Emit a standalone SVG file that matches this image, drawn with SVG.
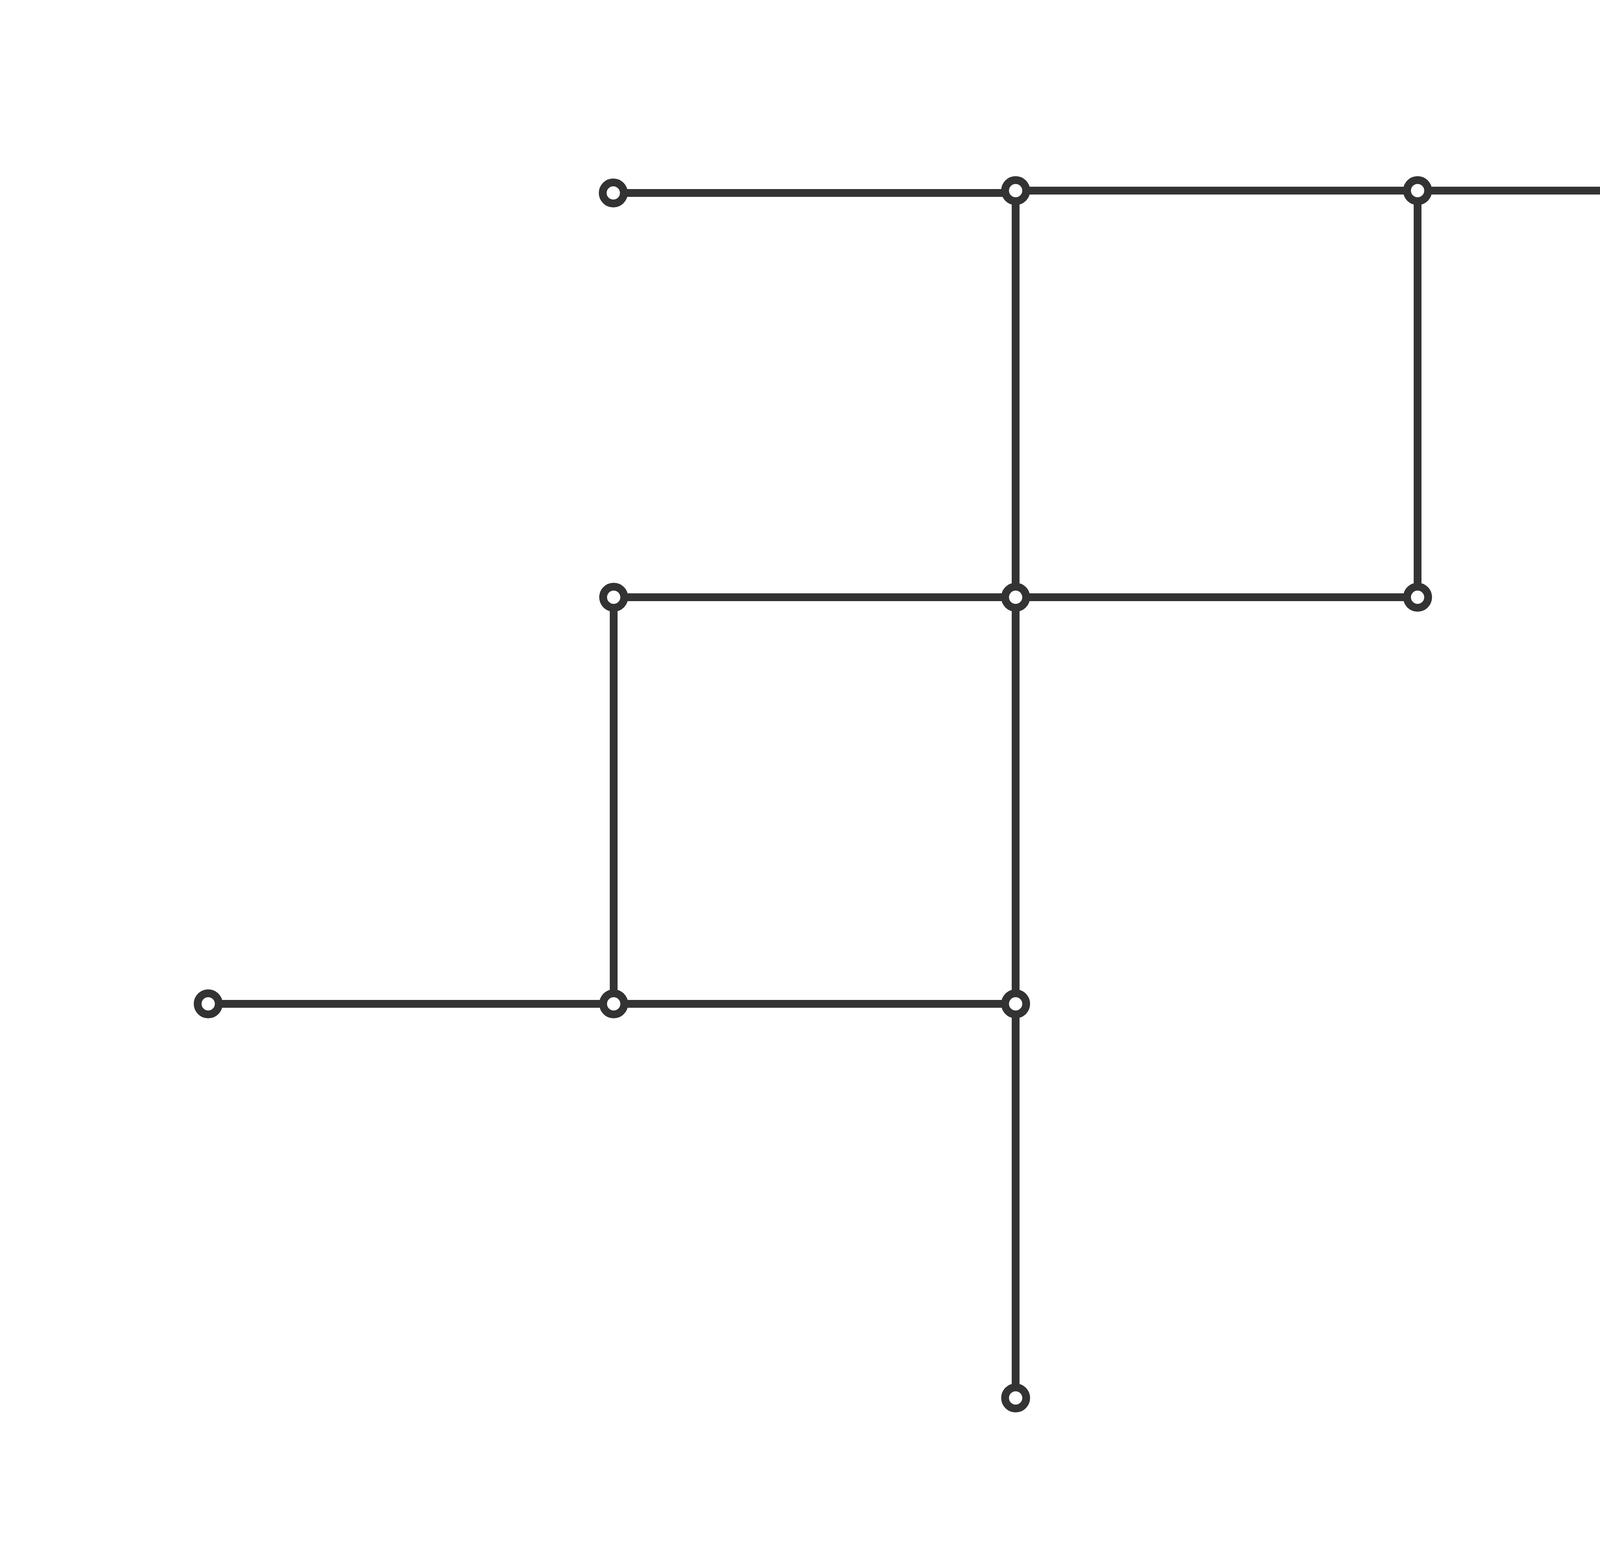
<svg xmlns="http://www.w3.org/2000/svg" width="5000" height="3958" viewBox="0 0 5000 3958">
<style>
.edge{stroke:#333333;stroke-width:20;fill:none}
.ring{stroke:#333333;stroke-width:20;fill:#ffffff}
.term{stroke:#333333;stroke-width:22;fill:#ffffff}
.bar{stroke:#333333;stroke-width:12}
.lbl{font-family:"Open Sans","Noto Sans","Liberation Sans",sans-serif;font-size:90px;fill:#000000}
</style>
<rect x="0" y="0" width="5000" height="3958" fill="#ffffff"/>
<g id="connectors">
<line class="edge" x1="1570" y1="494" x2="2600" y2="494"/>
<line class="edge" x1="2600" y1="488" x2="4674" y2="488"/>
<line class="edge" x1="1571" y1="1529" x2="3629" y2="1529"/>
<line class="edge" x1="533" y1="2570" x2="2600" y2="2570"/>
<line class="edge" x1="2600" y1="488" x2="2600" y2="3579"/>
<line class="edge" x1="3629" y1="488" x2="3629" y2="1529"/>
<line class="edge" x1="1571" y1="1529" x2="1571" y2="2570"/>
</g>
<g id="n1"><circle class="ring" cx="1570" cy="494" r="27"/></g>
<g id="n2"><circle class="ring" cx="2600" cy="488" r="27"/></g>
<g id="n3"><circle class="ring" cx="3629" cy="488" r="27"/></g>
<g id="n4"><circle class="term" cx="4674" cy="488" r="43"/><line class="bar" x1="4642" y1="488" x2="4706" y2="488"/><line class="bar" x1="4674" y1="456" x2="4674" y2="520"/></g>
<g id="n5"><circle class="ring" cx="1571" cy="1529" r="27"/></g>
<g id="n6"><circle class="ring" cx="2600" cy="1529" r="27"/></g>
<g id="n7"><circle class="ring" cx="3629" cy="1529" r="27"/></g>
<g id="n8"><circle class="ring" cx="533" cy="2570" r="27"/></g>
<g id="n9"><circle class="ring" cx="1571" cy="2570" r="27"/></g>
<g id="n10"><circle class="ring" cx="2600" cy="2570" r="27"/></g>
<g id="n11"><circle class="ring" cx="2600" cy="3579" r="27"/></g>
<text class="lbl" x="4339" y="3693" textLength="289" lengthAdjust="spacingAndGlyphs">95x120</text>
</svg>
